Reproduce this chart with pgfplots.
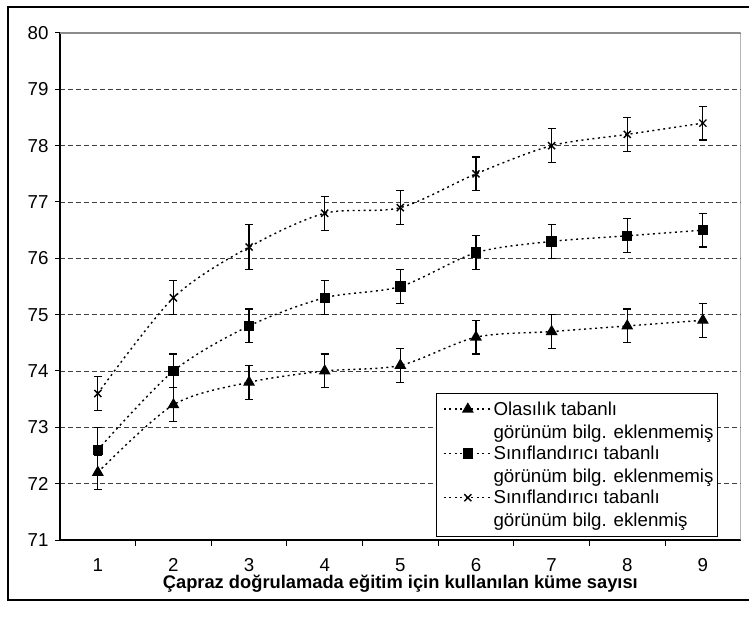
\documentclass[border=0pt]{standalone}
\usepackage{fontspec}
\setmainfont{Liberation Sans}
\usepackage{pgfplots}
\pgfplotsset{compat=1.18}

\begin{document}
\begin{tikzpicture}
\useasboundingbox (-60bp,-77bp) rectangle (689bp,540bp);
\draw[line width=1.2bp] (689bp,533bp) -- (-52bp,533bp) -- (-52bp,-60bp) -- (689bp,-60bp);
\begin{axis}[
    scale only axis,
    width=680.7bp, height=507bp,
    xmin=0.5, xmax=9.5,
    ymin=71, ymax=80,
    xtick={1,...,9},
    minor xtick={1.5,2.5,...,8.5},
    ytick={71,...,80},
    axis x line=bottom, axis y line=left,
    axis line style={-, line width=1.2bp, black},
    tick align=outside,
    every major x tick/.style={draw=none},
    major tick length=5bp, minor tick length=6bp,
    tick style={line width=1bp, black},
    ymajorgrids,
    major grid style={black!75, dash pattern=on 5bp off 3bp, line width=0.8bp},
    /pgf/number format/assume math mode=true,
    ticklabel style={font=\fontsize{18.7bp}{22bp}\selectfont},
    xticklabel style={inner sep=0bp, yshift=-13bp},
    yticklabel style={xshift=-3bp},
    xlabel={\textbf{Çapraz doğrulamada eğitim için kullanılan küme sayısı}},
    xlabel style={font=\fontsize{18.3bp}{21bp}\selectfont, inner sep=0bp, at={(axis description cs:0.5,0)}, anchor=center, yshift=-44bp},
    legend style={at={(rel axis cs:0.9667,0.006)}, anchor=south east,
        draw=black, line width=1bp, font=\fontsize{18.7bp}{23.3bp}\selectfont,
        nodes={align=left, inner sep=1bp}, row sep=3.9bp, inner xsep=3bp, inner ysep=7bp},
    legend cell align=left,
    legend image code/.code={\path (0bp,0bp);\draw[mark repeat=2,mark phase=2,#1] plot coordinates {(4bp,11.6bp) (28bp,11.6bp) (52bp,11.6bp)};},
    every axis plot/.append style={black, line width=1.4bp, dash pattern=on 2bp off 3.5bp, smooth, tension=0.5,
        mark options={solid, fill=black},
        error bars/y dir=both, error bars/y explicit,
        error bars/error bar style={solid, line width=1.2bp},
        error bars/error mark options={solid, rotate=90, mark size=4bp, line width=1.2bp}},
]
\addplot[mark=triangle*, mark size=5.5bp] coordinates {
    (1,72.2) +- (0,0.3) (2,73.4) +- (0,0.3) (3,73.8) +- (0,0.3) (4,74.0) +- (0,0.3) (5,74.1) +- (0,0.3)
    (6,74.6) +- (0,0.3) (7,74.7) +- (0,0.3) (8,74.8) +- (0,0.3) (9,74.9) +- (0,0.3)
};
\addlegendentry{Olasılık tabanlı\\görünüm bilg. eklenmemiş}
\addplot[mark=square*, mark size=4.5bp] coordinates {
    (1,72.6) +- (0,0.4) (2,74.0) +- (0,0.3) (3,74.8) +- (0,0.3) (4,75.3) +- (0,0.3) (5,75.5) +- (0,0.3)
    (6,76.1) +- (0,0.3) (7,76.3) +- (0,0.3) (8,76.4) +- (0,0.3) (9,76.5) +- (0,0.3)
};
\addlegendentry{Sınıflandırıcı tabanlı\\görünüm bilg. eklenmemiş}
\addplot[mark=x, mark size=5bp] coordinates {
    (1,73.6) +- (0,0.3) (2,75.3) +- (0,0.3) (3,76.2) +- (0,0.4) (4,76.8) +- (0,0.3) (5,76.9) +- (0,0.3)
    (6,77.5) +- (0,0.3) (7,78.0) +- (0,0.3) (8,78.2) +- (0,0.3) (9,78.4) +- (0,0.3)
};
\addlegendentry{Sınıflandırıcı tabanlı\\görünüm bilg. eklenmiş}
\draw[black!45, line width=1.5bp] (rel axis cs:0,1) -- (rel axis cs:1,1) -- (rel axis cs:1,0);
\end{axis}
\end{tikzpicture}
\end{document}
